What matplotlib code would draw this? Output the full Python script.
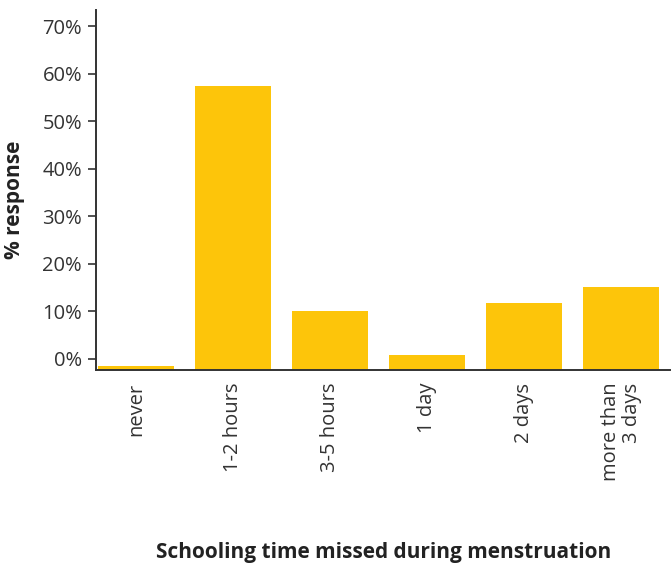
import matplotlib.pyplot as plt

categories = ['never', '1-2 hours', '3-5 hours', '1 day', '2 days', 'more than\n3 days']
values = [-1.5, 57.4, 10.0, 0.8, 11.7, 15.2]
yticks = [0, 10, 20, 30, 40, 50, 60, 70]

plt.rcParams['font.family'] = ['Open Sans', 'DejaVu Sans']

fig = plt.figure(figsize=(6.71, 5.66), dpi=100)
ax = fig.add_axes([0.143, 0.346, 0.856, 0.636])

ymin = -2.4
x = range(len(categories))
ax.bar(x, [v - ymin for v in values], bottom=ymin, width=0.78, color='#FDC50A')

ax.set_xlim(-0.41, 5.505)
ax.set_ylim(ymin, 73.4)

ax.set_yticks(yticks)
ax.set_yticklabels([str(t) + '%' for t in yticks], fontsize=14.5, color='#333333')
ax.set_xticks(list(x))
ax.set_xticklabels(categories, rotation=90, fontsize=14.5, color='#333333',
                   va='top', ha='center', multialignment='right',
                   linespacing=1.05)
ax.tick_params(axis='x', length=0, pad=9)
ax.tick_params(axis='y', length=6, width=1.2, color='#333333', pad=4)

for s in ['top', 'right']:
    ax.spines[s].set_visible(False)
for s in ['left', 'bottom']:
    ax.spines[s].set_color('#333333')
    ax.spines[s].set_linewidth(1.4)

fig.text(0.022, 0.647, '% response', rotation=90, fontsize=15, fontweight='bold',
         color='#222222', ha='center', va='center')
fig.text(0.571, 0.023, 'Schooling time missed during menstruation', fontsize=15,
         fontweight='bold', color='#222222', ha='center', va='center')

fig.savefig('out.png', dpi=100)
